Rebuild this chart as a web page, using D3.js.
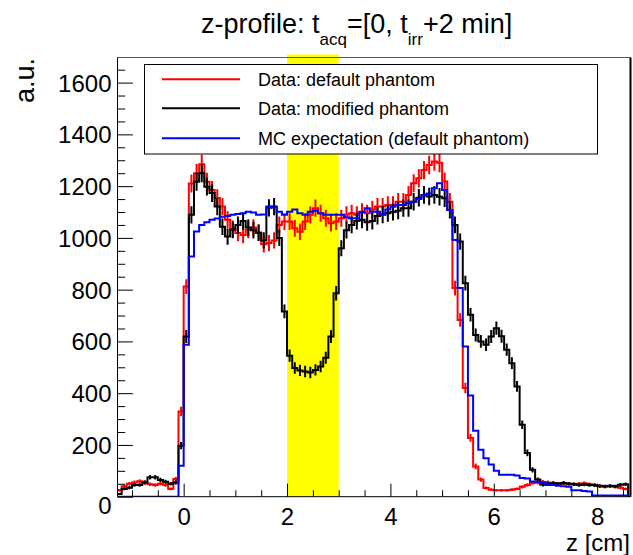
<!DOCTYPE html>
<html><head><meta charset="utf-8">
<script src="https://cdn.jsdelivr.net/npm/d3@7"></script>
<style>
body{margin:0;background:#fff}
svg{display:block}
text{font-family:"Liberation Sans",Arial,Helvetica,sans-serif;fill:#000}
</style>
</head><body>
<svg id="c" width="633" height="555"></svg>
<script>
// ---- data ----
const binStart = -1.3;          // left edge of first bin (cm)
const binWidth = 0.1;           // bin width (cm)
const seriesNames = ["Data: default phantom", "Data: modified phantom", "MC expectation (default phantom)"];
const seriesColors = ["#ff0000", "#000000", "#0000ff"];
const redDefault = [
  25,40,50,55,60,55,48,45,50,45,30,68,329,
  812,1210,1250,1285,1217,1185,1154,1121,1070,1035,
  1019,1011,1031,1040,1020,975,980,990,1050,1063,
  1063,1037,1024,1063,1089,1115,1095,1076,1057,1063,
  1076,1089,1095,1089,1101,1095,1110,1121,1121,1127,
  1127,1140,1140,1166,1211,1230,1262,1282,1295,1290,
  1218,1140,806,683,420,227,117,66,34,27,
  25,25,25,27,30,38,45,53,55,57,
  55,53,50,52,50,48,50,52,48,45,
  40,38,40,38,35,30,0
];
const blackModified = [
  10,30,35,45,45,55,75,75,65,58,50,55,197,
  619,1089,1217,1250,1198,1173,1121,1043,1005,1031,
  1050,1065,1040,1030,1020,990,1116,1121,1000,716,
  545,497,488,484,480,490,503,537,619,786,
  960,1030,1050,1065,1070,1060,1065,1085,1090,1095,
  1100,1105,1115,1115,1140,1155,1166,1160,1166,1159,
  1153,1108,1050,986,825,703,625,600,587,619,
  651,620,568,516,426,278,169,104,66,46,
  50,52,50,53,50,48,45,47,45,44,
  42,40,42,40,46,48,0
];
const blueMC = [
  0,0,0,0,0,0,0,0,0,0,0,0,120,
  587,928,1025,1050,1060,1070,1075,1082,1085,1089,
  1092,1095,1101,1098,1089,1090,1121,1118,1101,1089,
  1101,1110,1095,1089,1101,1105,1095,1089,1089,1089,
  1089,1080,1076,1076,1100,1115,1101,1101,1089,1110,
  1120,1127,1127,1135,1140,1150,1165,1172,1192,1211,
  1185,1108,992,806,580,391,255,181,149,124,
  100,85,85,85,82,72,70,59,58,55,
  45,45,42,40,38,25,25,22,20,5,
  5,5,5,5,5,5,0
];
const xTickLabels = [0, 2, 4, 6, 8];
const yTickLabels = [0, 200, 400, 600, 800, 1000, 1200, 1400, 1600];
const bandRange = [2, 3];      // highlighted z range (cm)
const xDomain = [-1.28, 8.645];
const yDomain = [0, 1697];

// ---- layout ----
const frame = {l: 117.5, r: 630.5, t: 57.5, b: 496.7};
const svg = d3.select("#c");
const x = d3.scaleLinear().domain(xDomain).range([frame.l, frame.r]);
const y = d3.scaleLinear().domain(yDomain).range([frame.b, frame.t]);

svg.append("defs").append("clipPath").attr("id","clip")
  .append("rect").attr("x", frame.l).attr("y", frame.t - 4)
  .attr("width", frame.r - frame.l).attr("height", frame.b - frame.t + 4);

// yellow band
svg.append("rect")
  .attr("x", x(bandRange[0])).attr("width", x(bandRange[1]) - x(bandRange[0]))
  .attr("y", frame.t - 3).attr("height", frame.b - frame.t + 3)
  .attr("fill", "#ffff00");

// frame (top & right)
svg.append("line").attr("x1", frame.l).attr("x2", frame.r).attr("y1", frame.t).attr("y2", frame.t)
  .attr("stroke", "#555").attr("stroke-width", 1);
svg.append("line").attr("x1", frame.r).attr("x2", frame.r).attr("y1", frame.t).attr("y2", frame.b)
  .attr("stroke", "#000").attr("stroke-width", 2);

// histograms
const gH = svg.append("g").attr("clip-path", "url(#clip)");
const stepLine = d3.line().x(d => x(d[0])).y(d => y(d[1])).curve(d3.curveStepAfter);
function drawHist(vals, color, withErr) {
  const pts = [[binStart, 0]];
  vals.forEach((v, i) => pts.push([binStart + i * binWidth, v]));
  pts.push([binStart + vals.length * binWidth, vals[vals.length - 1]]);
  gH.append("path").attr("d", stepLine(pts)).attr("fill", "none")
    .attr("stroke", color).attr("stroke-width", 2);
  if (withErr) {
    gH.selectAll(null).data(vals.map((v, i) => [binStart + (i + 0.5) * binWidth, v]).filter(d => d[1] > 0))
      .join("line")
      .attr("x1", d => x(d[0])).attr("x2", d => x(d[0]))
      .attr("y1", d => y(d[1] - Math.sqrt(d[1]))).attr("y2", d => y(d[1] + Math.sqrt(d[1])))
      .attr("stroke", color).attr("stroke-width", 2);
  }
}
drawHist(redDefault, seriesColors[0], true);
drawHist(blackModified, seriesColors[1], true);
drawHist(blueMC, seriesColors[2], false);

// axes
const minorX = d3.range(-1.0, 8.6, 0.5).filter(v => Math.abs(v / 2 - Math.round(v / 2)) > 1e-6);
svg.append("g").attr("transform", `translate(0,${frame.b})`)
  .call(d3.axisBottom(x).tickValues(minorX).tickSize(-6.5).tickSizeOuter(0).tickFormat(""))
  .call(g => g.select(".domain").remove());
const gx = svg.append("g").attr("transform", `translate(0,${frame.b})`)
  .call(d3.axisBottom(x).tickValues(xTickLabels).tickSize(-13).tickSizeOuter(0).tickPadding(11)
    .tickFormat(d3.format("d")));
gx.select(".domain").remove();
gx.selectAll("text").attr("font-size", 24).attr("font-family", null);

const minorY = d3.range(0, 1700, 50).filter(v => v % 200 !== 0);
svg.append("g").attr("transform", `translate(${frame.l},0)`)
  .call(d3.axisLeft(y).tickValues(minorY).tickSize(-7.7).tickSizeOuter(0).tickFormat(""))
  .call(g => g.select(".domain").remove());
const gy = svg.append("g").attr("transform", `translate(${frame.l},0)`)
  .call(d3.axisLeft(y).tickValues(yTickLabels).tickSize(-15.4).tickSizeOuter(0).tickPadding(6)
    .tickFormat(d3.format("d")));
gy.select(".domain").remove();
gy.selectAll("text").attr("font-size", 24).attr("font-family", null)
  .attr("dy", d => d === 0 ? "0.72em" : "0.35em");
// full-length axis lines
svg.append("line").attr("x1", frame.l).attr("x2", frame.l).attr("y1", frame.t).attr("y2", frame.b).attr("stroke","#000");
svg.append("line").attr("x1", frame.l).attr("x2", frame.r).attr("y1", frame.b).attr("y2", frame.b).attr("stroke","#000");

// axis titles
svg.append("text").attr("transform", "translate(34,58) rotate(-90)")
  .attr("text-anchor", "end").attr("font-size", 27).text("a.u.");
svg.append("text").attr("x", 630).attr("y", 551)
  .attr("text-anchor", "end").attr("font-size", 24).text("z [cm]");

// title
const title = svg.append("text").attr("x", 201).attr("y", 33).attr("font-size", 27);
title.append("tspan").text("z-profile: t");
title.append("tspan").attr("font-size", 17).attr("dy", 12).text("acq");
title.append("tspan").attr("dy", -12).text("=[0, t");
title.append("tspan").attr("font-size", 17).attr("dy", 12).text("irr");
title.append("tspan").attr("dy", -12).text("+2 min]");

// legend
const leg = svg.append("g");
leg.append("rect").attr("x", 144.5).attr("y", 64.5).attr("width", 453).attr("height", 89.5)
  .attr("fill", "#fff").attr("stroke", "#000").attr("stroke-width", 1);
const rows = [79.3, 108.3, 138.3];
seriesNames.forEach((name, i) => {
  leg.append("line").attr("x1", 162).attr("x2", 240).attr("y1", rows[i]).attr("y2", rows[i])
    .attr("stroke", seriesColors[i]).attr("stroke-width", 2);
  leg.append("text").attr("x", 258).attr("y", rows[i]).attr("dy", "0.35em")
    .attr("font-size", 18).text(name);
});
</script>
</body></html>
